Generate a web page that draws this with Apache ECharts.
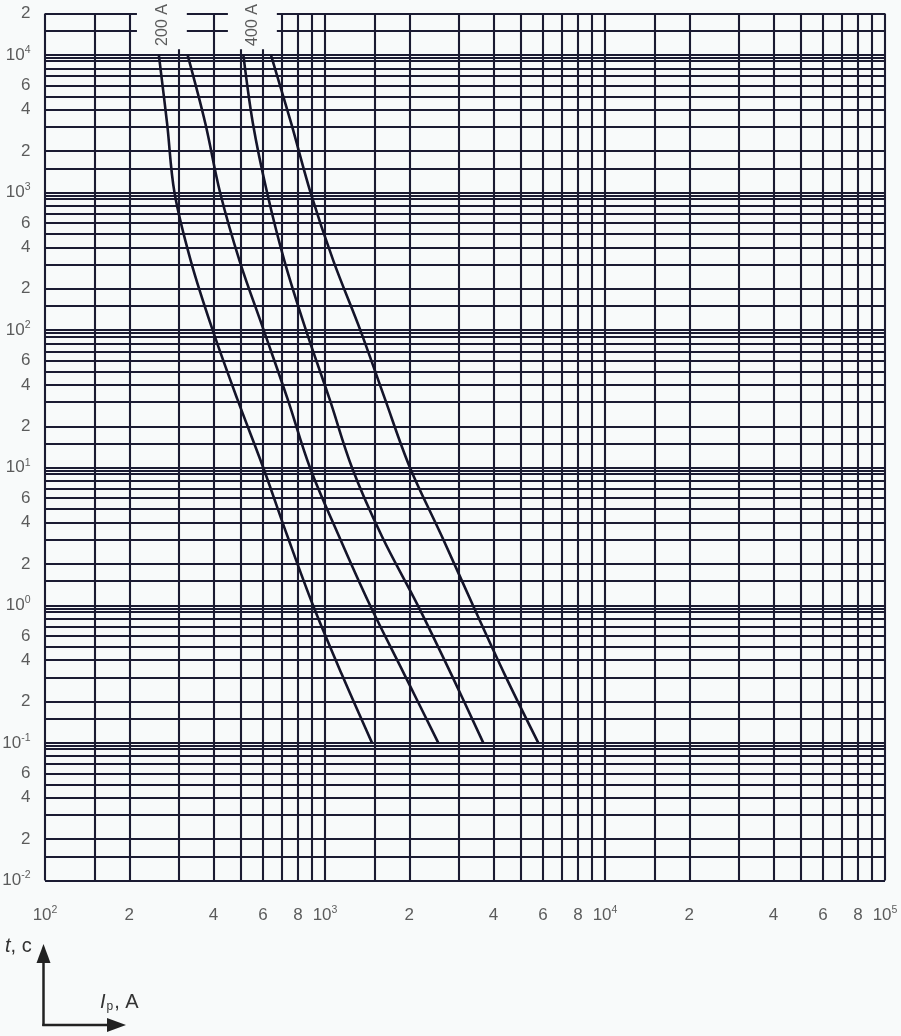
<!DOCTYPE html>
<html>
<head>
<meta charset="utf-8">
<script src="https://cdn.jsdelivr.net/npm/echarts@6/dist/echarts.min.js"></script>
<style>
html,body{margin:0;padding:0;background:#f8fafa;}
#chart{width:901px;height:1036px;}
</style>
</head>
<body>
<div id="chart"></div>
<script>
// ---- data ----
// time levels (s) at which each curve's current (A) was read
const tLevels       = [10000, 3162, 1000, 316.2, 100, 31.62, 10, 3.162, 1, 0.3162, 0.1];
const current200min = [255, 273, 290, 332, 397, 486, 602, 735, 906, 1147, 1472];
const current200max = [323, 374, 422, 496, 604, 735, 884, 1123, 1448, 1918, 2539];
const current400min = [511, 553, 621, 717, 855, 1038, 1249, 1598, 2145, 2823, 3676];
const current400max = [641, 758, 888, 1073, 1337, 1637, 2012, 2616, 3375, 4376, 5779];

const xTickLabels = [100, 200, 400, 600, 800, 1000, 2000, 4000, 6000, 8000, 10000, 20000, 40000, 60000, 80000, 100000];
const yTickLabels = [20000, 10000, 6000, 4000, 2000, 1000, 600, 400, 200, 100, 60, 40, 20, 10, 6, 4, 2, 1, 0.6, 0.4, 0.2, 0.1, 0.06, 0.04, 0.02, 0.01];
const gridMantissaX = [1, 1.5, 2, 3, 4, 5, 6, 7, 8, 9];
const gridMantissaY = [1, 1.5, 2, 3, 4, 5, 6, 7, 8, 9, 9.5];
const ratingNames = ['200 A', '400 A'];

// ---- layout / style config ----
const X_MIN = 100, X_MAX = 100000, Y_MIN = 0.01, Y_MAX = 20000;
const labelGapsX = [[213, 321], [450, 673]];   // blank strips above the curves for the rating labels
const gapBottomT = 11000;
const ratingAt = [[264, 16500], [551, 16500]];
const GRID_COLOR = '#1b1b32';
const CURVE_COLOR = '#14142a';
const TEXT_COLOR = '#333333';
const FONT = '"Liberation Sans", Arial, sans-serif';

function decadeValues(mant, lo, hi) {
  const out = [];
  for (let e = Math.floor(Math.log10(lo)) - 1; e <= Math.ceil(Math.log10(hi)); e++) {
    mant.forEach(m => {
      const v = +(m * Math.pow(10, e)).toPrecision(8);
      if (v >= lo * 0.99999 && v <= hi * 1.00001 && out.indexOf(v) < 0) out.push(v);
    });
  }
  return out.sort((a, b) => a - b);
}
function inGap(x) { return labelGapsX.some(g => x > g[0] && x < g[1]); }

const gridSegments = [];
decadeValues(gridMantissaX, X_MIN, X_MAX).forEach(x => {
  gridSegments.push({ coords: [[x, Y_MIN], [x, inGap(x) ? gapBottomT : Y_MAX]] });
});
decadeValues(gridMantissaY, Y_MIN, Y_MAX).forEach(y => {
  if (y > gapBottomT) {
    let start = X_MIN;
    labelGapsX.forEach(g => { gridSegments.push({ coords: [[start, y], [g[0], y]] }); start = g[1]; });
    gridSegments.push({ coords: [[start, y], [X_MAX, y]] });
  } else {
    gridSegments.push({ coords: [[X_MIN, y], [X_MAX, y]] });
  }
});

function tickText(v) {
  const e = Math.round(Math.log10(v) * 1e6) / 1e6;
  if (Number.isInteger(e)) return '{b|10}{s|' + e + '}';
  const p = Math.floor(e);
  return '{b|' + Math.round(v / Math.pow(10, p)) + '}';
}
const tickRich = {
  b: { fontSize: 17, lineHeight: 21, color: TEXT_COLOR, fontFamily: FONT },
  s: { fontSize: 10.5, lineHeight: 10, verticalAlign: 'top', color: TEXT_COLOR, fontFamily: FONT }
};

function curveSeries(currents) {
  return {
    type: 'line', z: 5, silent: true, symbol: 'none', smooth: 0.35,
    data: tLevels.map((t, i) => [currents[i], t]),
    lineStyle: { color: CURVE_COLOR, width: 2.6 }
  };
}

const chart = echarts.init(document.getElementById('chart'), null, { renderer: 'canvas' });
chart.setOption({
  backgroundColor: '#f8fafa',
  animation: false,
  grid: { left: 45, right: 16, top: 13.5, bottom: 155.5 },
  xAxis: {
    type: 'log', logBase: 10, min: X_MIN, max: X_MAX,
    axisLine: { show: false }, axisTick: { show: false }, axisLabel: { show: false }, splitLine: { show: false }
  },
  yAxis: {
    type: 'log', logBase: 10, min: Y_MIN, max: Y_MAX,
    axisLine: { show: false }, axisTick: { show: false }, axisLabel: { show: false }, splitLine: { show: false }
  },
  series: [
    {
      type: 'lines', coordinateSystem: 'cartesian2d', z: 2, silent: true, clip: false,
      data: gridSegments,
      lineStyle: { color: GRID_COLOR, width: 2.1, opacity: 1, curveness: 0 }
    },
    curveSeries(current200min),
    curveSeries(current200max),
    curveSeries(current400min),
    curveSeries(current400max),
    {
      type: 'scatter', z: 6, silent: true, clip: false, symbolSize: 1,
      itemStyle: { color: 'rgba(0,0,0,0)' },
      data: yTickLabels.map(v => [X_MIN, v]),
      label: { show: true, position: 'left', distance: 14, formatter: p => tickText(p.value[1]), rich: tickRich }
    },
    {
      type: 'scatter', z: 6, silent: true, clip: false, symbolSize: 1,
      itemStyle: { color: 'rgba(0,0,0,0)' },
      data: xTickLabels.map(v => [v, Y_MIN]),
      label: { show: true, position: 'bottom', distance: 24, formatter: p => tickText(p.value[0]), rich: tickRich }
    },
    {
      type: 'scatter', z: 6, silent: true, clip: false, symbolSize: 1,
      itemStyle: { color: 'rgba(0,0,0,0)' },
      data: ratingAt.map((c, i) => ({ name: ratingNames[i], value: c })),
      label: {
        show: true, position: 'inside', rotate: 90, formatter: p => p.name,
        fontSize: 16, color: TEXT_COLOR, fontFamily: FONT
      }
    }
  ],
  graphic: [
    { type: 'line', shape: { x1: 43.5, y1: 1026, x2: 43.5, y2: 958 }, style: { stroke: '#222', lineWidth: 2.5 } },
    { type: 'polygon', shape: { points: [[43.5, 944], [36.5, 963], [50.5, 963]] }, style: { fill: '#222' } },
    { type: 'line', shape: { x1: 42.3, y1: 1025, x2: 112, y2: 1025 }, style: { stroke: '#222', lineWidth: 2.5 } },
    { type: 'polygon', shape: { points: [[126, 1025], [107, 1018], [107, 1032]] }, style: { fill: '#222' } },
    {
      type: 'text', x: 5, y: 946,
      style: {
        text: '{i|t}{n|, c}', verticalAlign: 'middle', align: 'left',
        rich: {
          i: { fontSize: 20, fontStyle: 'italic', fill: TEXT_COLOR, fontFamily: FONT },
          n: { fontSize: 20, fill: TEXT_COLOR, fontFamily: FONT }
        }
      }
    },
    {
      type: 'text', x: 100, y: 1002,
      style: {
        text: '{i|I}{p|p}{n|, A}', verticalAlign: 'middle', align: 'left',
        rich: {
          i: { fontSize: 20, lineHeight: 22, fontStyle: 'italic', fill: TEXT_COLOR, fontFamily: FONT },
          p: { fontSize: 12, lineHeight: 12, verticalAlign: 'bottom', fill: TEXT_COLOR, fontFamily: FONT, padding: [0, 1, 0, 1] },
          n: { fontSize: 20, lineHeight: 22, fill: TEXT_COLOR, fontFamily: FONT }
        }
      }
    }
  ]
});
</script>
</body>
</html>
